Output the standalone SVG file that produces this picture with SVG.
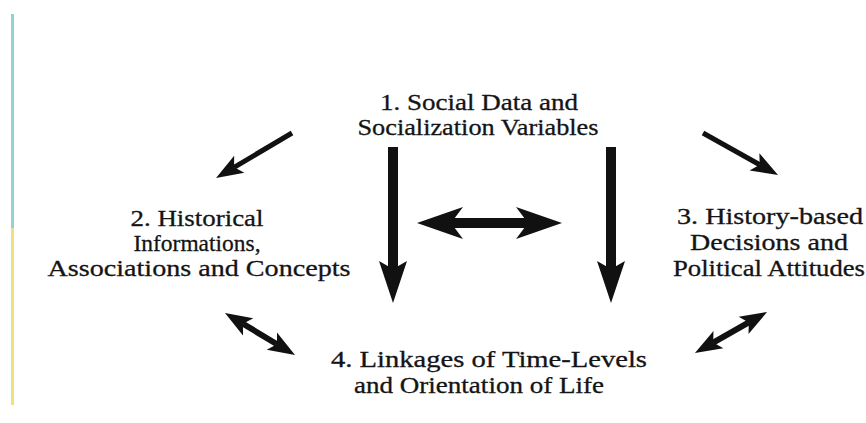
<svg xmlns="http://www.w3.org/2000/svg" width="866" height="423" viewBox="0 0 866 423">
<style>
.t{font-family:"Liberation Serif","Times New Roman",serif;font-size:23px;fill:#141414;stroke:#141414;stroke-width:0.3;text-anchor:middle}
.n2{font-size:24px}
.c{stroke:#111;fill:none;stroke-linecap:butt}
</style>
<defs>
<marker id="big" markerUnits="userSpaceOnUse" markerWidth="50" markerHeight="32" refX="8" refY="0" viewBox="0 -16 50 32" orient="auto" overflow="visible"><path d="M0,-14 L42,0 L0,14 L8,0 z" fill="#111"/></marker>
<marker id="hh" markerUnits="userSpaceOnUse" markerWidth="50" markerHeight="36" refX="12" refY="0" viewBox="0 -18 50 36" orient="auto-start-reverse" overflow="visible"><path d="M0,-16 L46,0 L0,16 L12,0 z" fill="#111"/></marker>
<marker id="sm" markerUnits="userSpaceOnUse" markerWidth="32" markerHeight="24" refX="6" refY="0" viewBox="0 -12 32 24" orient="auto-start-reverse" overflow="visible"><path d="M0,-10 L27,0 L0,10 L6,0 z" fill="#111"/></marker>
</defs>
<rect width="866" height="423" fill="#fff"/>
<rect x="11" y="14" width="3" height="214" fill="#8fd3d3"/>
<rect x="11" y="228" width="3" height="177" fill="#f0e080"/>
<g id="node1">
<text class="t" x="479" y="110" textLength="198" lengthAdjust="spacingAndGlyphs">1. Social Data and</text>
<text class="t" x="478" y="135" textLength="241" lengthAdjust="spacingAndGlyphs">Socialization Variables</text>
</g>
<g id="node2">
<text class="t n2" x="197" y="226" textLength="133" lengthAdjust="spacingAndGlyphs">2. Historical</text>
<text class="t n2" x="197" y="251" textLength="127" lengthAdjust="spacingAndGlyphs">Informations,</text>
<text class="t n2" x="199" y="276" textLength="303" lengthAdjust="spacingAndGlyphs">Associations and Concepts</text>
</g>
<g id="node3">
<text class="t" x="770" y="224" textLength="186" lengthAdjust="spacingAndGlyphs">3. History-based</text>
<text class="t" x="769" y="250" textLength="158" lengthAdjust="spacingAndGlyphs">Decisions and</text>
<text class="t" x="769" y="276" textLength="192" lengthAdjust="spacingAndGlyphs">Political Attitudes</text>
</g>
<g id="node4">
<text class="t" x="489" y="367" textLength="316" lengthAdjust="spacingAndGlyphs">4. Linkages of Time-Levels</text>
<text class="t" x="479" y="393" textLength="250" lengthAdjust="spacingAndGlyphs">and Orientation of Life</text>
</g>
<g id="connectors">
<line class="c" x1="393" y1="147" x2="393" y2="269" stroke-width="10" marker-end="url(#big)"/>
<line class="c" x1="611" y1="147" x2="611" y2="269" stroke-width="10" marker-end="url(#big)"/>
<line class="c" x1="451" y1="223" x2="528" y2="223" stroke-width="10" marker-start="url(#hh)" marker-end="url(#hh)"/>
<line class="c" x1="292" y1="133" x2="234.1" y2="167.3" stroke-width="5" marker-end="url(#sm)"/>
<line class="c" x1="703" y1="133" x2="759.7" y2="164.8" stroke-width="5" marker-end="url(#sm)"/>
<line class="c" x1="243" y1="323.8" x2="277" y2="344.2" stroke-width="6" marker-start="url(#sm)" marker-end="url(#sm)"/>
<line class="c" x1="713.2" y1="342.6" x2="748.8" y2="322.4" stroke-width="6" marker-start="url(#sm)" marker-end="url(#sm)"/>
</g>
</svg>
